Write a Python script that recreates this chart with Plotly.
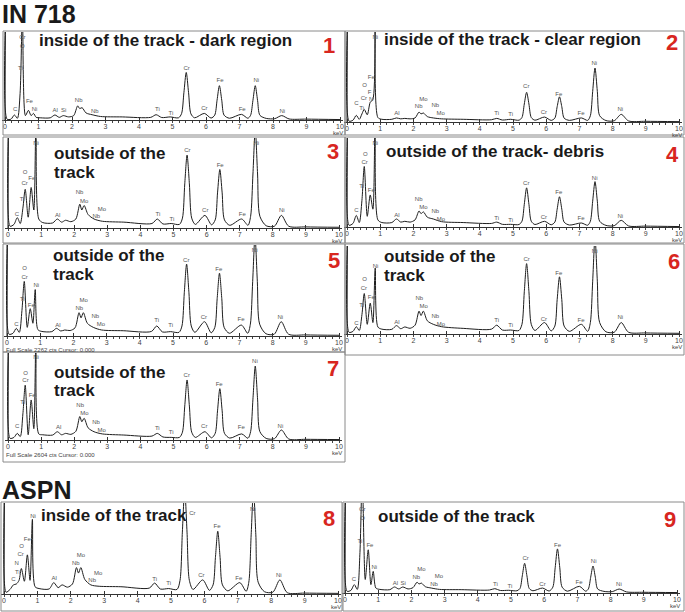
import plotly.graph_objects as go

W, H = 685, 612

# ---------------- data ----------------
# shared energy sampling (keV) at which each spectrum was read
energy_kev = [0.00, 0.02, 0.06, 0.18, 0.28, 0.37, 0.45, 0.52, 0.61, 0.70, 0.78, 0.85, 0.93,
              1.05, 1.35, 1.49, 1.62, 1.74, 1.90, 2.05, 2.17, 2.23, 2.30, 2.42, 2.60, 2.85,
              3.50, 4.35, 4.51, 4.68, 4.93, 5.18, 5.27, 5.34, 5.41, 5.48, 5.55, 5.66,
              5.95, 6.15, 6.26, 6.33, 6.40, 6.47, 6.54, 6.70, 7.06, 7.25, 7.33, 7.40,
              7.47, 7.54, 7.61, 7.80, 8.05, 8.26, 8.48, 9.00, 10.0]

# relative counts (1 = top of panel)
counts_1 = [0.0, 1.3, 0.01, 0.01, 0.057, 0.02, 0.30, 1.2, 0.05, 0.11, 0.05, 0.075, 0.03,
            0.025, 0.025, 0.057, 0.03, 0.05, 0.035, 0.05, 0.16, 0.13, 0.14, 0.08, 0.06, 0.04,
            0.035, 0.03, 0.06, 0.028, 0.035, 0.025, 0.072, 0.31, 0.54, 0.31, 0.07, 0.025,
            0.075, 0.022, 0.055, 0.225, 0.39, 0.225, 0.055, 0.02, 0.064, 0.02, 0.053, 0.22,
            0.39, 0.22, 0.053, 0.018, 0.015, 0.05, 0.012, 0.01, 0.005]
counts_2 = [0.0, 1.3, 0.01, 0.02, 0.074, 0.03, 0.09, 0.14, 0.08, 0.22, 0.25, 1.3, 0.05,
            0.03, 0.03, 0.045, 0.035, 0.04, 0.035, 0.045, 0.11, 0.09, 0.10, 0.06, 0.045, 0.035,
            0.03, 0.025, 0.04, 0.022, 0.03, 0.02, 0.05, 0.2, 0.33, 0.2, 0.05, 0.02,
            0.055, 0.018, 0.043, 0.17, 0.28, 0.17, 0.043, 0.018, 0.045, 0.018, 0.07, 0.34,
            0.60, 0.34, 0.07, 0.016, 0.014, 0.085, 0.012, 0.008, 0.004]
counts_3 = [0.0, 1.3, 0.02, 0.04, 0.115, 0.05, 0.22, 0.43, 0.12, 0.45, 0.2, 1.3, 0.1,
            0.06, 0.056, 0.10, 0.065, 0.086, 0.07, 0.1, 0.265, 0.2, 0.25, 0.15, 0.1, 0.075,
            0.065, 0.05, 0.10, 0.045, 0.05, 0.04, 0.11, 0.49, 0.81, 0.49, 0.11, 0.04,
            0.14, 0.035, 0.09, 0.39, 0.65, 0.39, 0.09, 0.03, 0.10, 0.03, 0.13, 0.6,
            1.1, 0.6, 0.13, 0.025, 0.02, 0.14, 0.02, 0.012, 0.008]
counts_4 = [0.0, 1.3, 0.02, 0.04, 0.13, 0.05, 0.3, 0.68, 0.12, 0.36, 0.2, 1.3, 0.08,
            0.05, 0.05, 0.09, 0.055, 0.064, 0.055, 0.08, 0.18, 0.15, 0.17, 0.11, 0.09, 0.06,
            0.05, 0.04, 0.055, 0.03, 0.03, 0.028, 0.065, 0.255, 0.44, 0.255, 0.065, 0.028,
            0.064, 0.025, 0.055, 0.2, 0.34, 0.2, 0.055, 0.022, 0.045, 0.02, 0.065, 0.29,
            0.51, 0.29, 0.065, 0.018, 0.015, 0.075, 0.012, 0.01, 0.005]
counts_5 = [0.0, 1.3, 0.02, 0.03, 0.084, 0.04, 0.28, 0.60, 0.095, 0.30, 0.14, 0.51, 0.07,
            0.05, 0.048, 0.084, 0.055, 0.066, 0.06, 0.09, 0.256, 0.2, 0.256, 0.14, 0.095, 0.066,
            0.058, 0.05, 0.11, 0.045, 0.048, 0.04, 0.11, 0.475, 0.79, 0.475, 0.11, 0.04,
            0.157, 0.035, 0.095, 0.41, 0.69, 0.41, 0.095, 0.03, 0.12, 0.03, 0.13, 0.6,
            1.1, 0.6, 0.13, 0.025, 0.02, 0.157, 0.02, 0.012, 0.008]
counts_6 = [0.0, 1.3, 0.02, 0.03, 0.083, 0.04, 0.22, 0.46, 0.11, 0.35, 0.13, 0.75, 0.08,
            0.055, 0.053, 0.095, 0.06, 0.08, 0.065, 0.1, 0.26, 0.21, 0.26, 0.15, 0.11, 0.083,
            0.064, 0.055, 0.10, 0.045, 0.045, 0.04, 0.11, 0.48, 0.80, 0.48, 0.11, 0.04,
            0.13, 0.035, 0.09, 0.39, 0.65, 0.39, 0.09, 0.03, 0.11, 0.03, 0.13, 0.6,
            1.1, 0.6, 0.13, 0.025, 0.02, 0.13, 0.02, 0.012, 0.008]
counts_7 = [0.0, 1.3, 0.02, 0.03, 0.076, 0.04, 0.3, 0.63, 0.06, 0.46, 0.13, 1.3, 0.07,
            0.06, 0.057, 0.095, 0.06, 0.076, 0.065, 0.1, 0.27, 0.21, 0.25, 0.14, 0.095, 0.07,
            0.057, 0.045, 0.076, 0.035, 0.03, 0.03, 0.09, 0.39, 0.69, 0.39, 0.09, 0.03,
            0.095, 0.025, 0.077, 0.335, 0.59, 0.335, 0.077, 0.022, 0.07, 0.02, 0.096, 0.47,
            0.85, 0.47, 0.096, 0.018, 0.015, 0.115, 0.012, 0.008, 0.005]
counts_8 = [0.0, 1.3, 0.02, 0.05, 0.10, 0.11, 0.15, 0.28, 0.14, 0.43, 0.15, 0.82, 0.08,
            0.06, 0.055, 0.125, 0.07, 0.1, 0.075, 0.11, 0.29, 0.23, 0.29, 0.16, 0.1, 0.085,
            0.08, 0.065, 0.12, 0.055, 0.06, 0.05, 0.15, 0.68, 1.15, 0.68, 0.15, 0.05,
            0.155, 0.04, 0.1, 0.4, 0.69, 0.4, 0.1, 0.035, 0.125, 0.03, 0.13, 0.65,
            1.15, 0.65, 0.13, 0.025, 0.02, 0.155, 0.015, 0.01, 0.007]
counts_9 = [0.0, 1.3, 0.02, 0.03, 0.093, 0.04, 0.45, 1.3, 0.15, 0.48, 0.093, 0.24, 0.055,
            0.04, 0.037, 0.067, 0.045, 0.067, 0.045, 0.06, 0.12, 0.1, 0.11, 0.07, 0.055, 0.04,
            0.037, 0.033, 0.048, 0.028, 0.03, 0.025, 0.05, 0.19, 0.33, 0.19, 0.05, 0.025,
            0.055, 0.022, 0.065, 0.28, 0.49, 0.28, 0.065, 0.02, 0.074, 0.02, 0.045, 0.175,
            0.30, 0.175, 0.045, 0.018, 0.015, 0.044, 0.012, 0.008, 0.005]

panel_titles = [["inside of the track - dark region"], ["inside of the track - clear region"],
                ["outside of the", "track"], ["outside of the track- debris"],
                ["outside of the", "track"], ["outside of the", "track"],
                ["outside of the", "track"], ["inside of the track"], ["outside of the track"]]
panel_numbers = ["1", "2", "3", "4", "5", "6", "7", "8", "9"]
tick_labels = [str(i) for i in range(11)]

# element peak labels: (symbol, keV, level)
labels_1 = [("Cr",0.52,0.94),("O",0.52,0.84),("Ti",0.46,0.58),("C",0.30,0.125),("Fe",0.73,0.21),
            ("Ni",0.88,0.12),("Al",1.50,0.11),("Si",1.75,0.11),("Nb",2.20,0.22),("Nb",2.68,0.095),
            ("Ti",4.55,0.12),("Ti",4.95,0.075),("Cr",5.42,0.58),("Cr",5.95,0.13),("Fe",6.42,0.45),
            ("Fe",7.08,0.12),("Ni",7.50,0.45),("Ni",8.28,0.10)]
labels_2 = [("Ni",0.85,0.94),("Fe",0.73,0.49),("O",0.53,0.41),("F",0.68,0.33),("Cr",0.51,0.26),
            ("N",0.73,0.25),("C",0.28,0.21),("Ti",0.44,0.15),("Al",1.50,0.10),("Nb",2.16,0.17),
            ("Mo",2.30,0.25),("Nb",2.66,0.18),("Mo",2.82,0.09),("Ti",4.51,0.10),("Ti",4.93,0.08),
            ("Cr",5.40,0.39),("Cr",5.93,0.11),("Fe",6.38,0.31),("Fe",7.05,0.10),("Ni",7.45,0.65),
            ("Ni",8.23,0.14)]
labels_3 = [("Ni",0.85,0.94),("O",0.52,0.62),("Fe",0.72,0.55),("Cr",0.50,0.49),("Ti",0.43,0.32),
            ("C",0.27,0.15),("Al",1.50,0.14),("Nb",2.16,0.39),("Mo",2.30,0.30),("Mo",2.84,0.21),
            ("Nb",2.67,0.13),("Ti",4.53,0.15),("Ti",4.95,0.09),("Cr",5.42,0.86),("Cr",5.96,0.19),
            ("Fe",6.41,0.70),("Fe",7.08,0.15),("Ni",7.50,0.94),("Ni",8.27,0.19)]
labels_4 = [("Ni",0.85,0.94),("O",0.55,0.82),("Cr",0.53,0.73),("Ti",0.44,0.46),("Fe",0.73,0.41),
            ("C",0.28,0.19),("Al",1.50,0.13),("Nb",2.16,0.31),("Mo",2.30,0.22),("Nb",2.66,0.17),
            ("Mo",2.83,0.08),("Ti",4.51,0.09),("Ti",4.93,0.07),("Cr",5.40,0.49),("Cr",5.93,0.11),
            ("Fe",6.38,0.39),("Fe",7.05,0.09),("Ni",7.46,0.54),("Ni",8.23,0.12)]
labels_5 = [("O",0.53,0.74),("Cr",0.53,0.64),("Ni",0.88,0.55),("Ti",0.46,0.40),("Fe",0.73,0.33),
            ("C",0.28,0.13),("Al",1.53,0.12),("Mo",2.31,0.39),("Nb",2.18,0.30),("Nb",2.66,0.21),
            ("Mo",2.83,0.13),("Ti",4.51,0.165),("Ti",4.93,0.12),("Cr",5.40,0.83),("Cr",5.93,0.20),
            ("Fe",6.38,0.73),("Fe",7.05,0.18),("Ni",7.46,0.94),("Ni",8.23,0.20)]
labels_6 = [("Ni",0.86,0.77),("O",0.53,0.62),("Cr",0.51,0.52),("Fe",0.73,0.41),("Ti",0.44,0.32),
            ("C",0.28,0.12),("Al",1.50,0.13),("Nb",2.18,0.40),("Mo",2.31,0.31),("Nb",2.66,0.20),
            ("Mo",2.83,0.11),("Ti",4.51,0.15),("Ti",4.93,0.10),("Cr",5.41,0.85),("Cr",5.93,0.17),
            ("Fe",6.38,0.69),("Fe",7.05,0.15),("Ni",7.46,0.94),("Ni",8.23,0.19)]
labels_7 = [("Ni",0.85,0.95),("O",0.53,0.77),("Cr",0.53,0.68),("Fe",0.73,0.51),("Ti",0.44,0.43),
            ("C",0.28,0.16),("Al",1.53,0.145),("Nb",2.18,0.40),("Mo",2.31,0.31),("Nb",2.66,0.20),
            ("Mo",2.83,0.115),("Ti",4.51,0.13),("Ti",4.93,0.084),("Cr",5.40,0.74),("Cr",5.93,0.15),
            ("Fe",6.38,0.64),("Fe",7.05,0.145),("Ni",7.46,0.90),("Ni",8.23,0.16)]
labels_8 = [("Ni",0.87,0.85),("Fe",0.70,0.60),("O",0.53,0.52),("Cr",0.50,0.43),("N",0.38,0.33),
            ("Ti",0.40,0.235),("C",0.28,0.16),("Al",1.50,0.17),("Mo",2.30,0.42),("Nb",2.15,0.34),
            ("Mo",2.82,0.22),("Nb",2.64,0.15),("Ti",4.51,0.16),("Ti",4.93,0.11),("Cr",5.64,0.88),
            ("Cr",5.91,0.20),("Fe",6.38,0.74),("Fe",7.03,0.17),("Ni",7.45,0.93),("Ni",8.23,0.20)]
labels_9 = [("Cr",0.52,0.93),("O",0.53,0.83),("Ti",0.45,0.57),("Fe",0.75,0.53),("Ni",0.88,0.285),
            ("C",0.27,0.15),("Al",1.52,0.11),("Si",1.75,0.11),("Mo",2.30,0.26),("Nb",2.15,0.17),
            ("Mo",2.83,0.18),("Nb",2.68,0.09),("Ti",4.53,0.09),("Ti",4.97,0.074),("Cr",5.44,0.38),
            ("Cr",5.95,0.10),("Fe",6.40,0.53),("Fe",7.05,0.12),("Ni",7.49,0.35),("Ni",8.25,0.09)]

all_counts = [counts_1, counts_2, counts_3, counts_4, counts_5, counts_6, counts_7, counts_8, counts_9]
all_labels = [labels_1, labels_2, labels_3, labels_4, labels_5, labels_6, labels_7, labels_8, labels_9]

# ---------------- layout geometry (pixels) ----------------
# (x at 0 keV, x at 10 keV, y baseline, y top, box(x1,y1,x2,y2), title x, title y centres, number right x, number y)
geometry = [
    (5, 340, 120, 32, (3, 31, 345, 135), 38, [40.5], 336, 46),
    (347, 679, 122, 32, (345, 31, 684, 135), 383, [39], 679, 42.5),
    (8, 339, 228, 138, (3, 137, 345, 243), 53, [153, 172.7], 340, 151.5),
    (347, 679, 227, 138, (345, 137, 684, 243), 385, [151.7], 680, 154.5),
    (7, 339, 336, 245, (3, 244, 345, 352), 52, [255.7, 274.3], 341, 260.5),
    (347, 679, 334, 246, (345, 244, 684, 355), 383, [256.7, 275.7], 681, 261),
    (8, 339, 440, 353, (3, 352, 345, 462), 53, [372.3, 391], 340, 368),
    (4, 338, 594, 503, (1, 502, 342, 611), 40, [515.7], 336, 518),
    (345, 677, 593, 503, (343, 502, 684, 611), 377, [516.7], 677, 519.5),
]

FONT = "Liberation Sans, Arial, sans-serif"
fig = go.Figure()
layout = dict(width=W, height=H, margin=dict(l=0, r=0, t=0, b=0), paper_bgcolor="white",
              plot_bgcolor="rgba(0,0,0,0)", showlegend=False, font=dict(family=FONT))
shapes, annotations = [], []

def px(x):
    return x / W

def py(y):
    return 1 - y / H

for i, (counts, labels, geo) in enumerate(zip(all_counts, all_labels, geometry)):
    n = i + 1
    x0, x10, yb, yt, box, tx, tys, nx, ny = geo
    k = (x10 - x0) / 10.0
    pad = 3
    xname = "x" if n == 1 else f"x{n}"
    yname = "y" if n == 1 else f"y{n}"
    layout["xaxis" if n == 1 else f"xaxis{n}"] = dict(
        domain=[px(x0 - pad), px(x10 + pad)], range=[-pad / k, 10 + pad / k], anchor=yname,
        showgrid=False, zeroline=False, showline=True, linecolor="#333", linewidth=1,
        ticks="inside", ticklen=3, tickwidth=1, tickcolor="#333",
        tickvals=list(range(11)), ticktext=tick_labels,
        tickfont=dict(size=7, color="#444", family=FONT),
        minor=dict(dtick=0.2, tick0=0, ticks="outside", ticklen=2, tickcolor="#444"),
        fixedrange=True)
    layout["yaxis" if n == 1 else f"yaxis{n}"] = dict(
        domain=[py(yb), py(yt)], range=[0, 1], anchor=xname, visible=False, fixedrange=True)

    fig.add_trace(go.Scatter(x=energy_kev, y=counts, mode="lines", xaxis=xname, yaxis=yname,
                             line=dict(color="#1e1e1e", width=1, shape="spline", smoothing=0.8),
                             hoverinfo="skip"))
    fig.add_trace(go.Scatter(x=[l[1] for l in labels], y=[l[2] for l in labels],
                             text=[l[0] for l in labels], mode="text", xaxis=xname, yaxis=yname,
                             textfont=dict(size=6, color="#555555", family=FONT),
                             cliponaxis=False, hoverinfo="skip"))

    bx1, by1, bx2, by2 = box
    shapes.append(dict(type="rect", xref="paper", yref="paper", x0=px(bx1), x1=px(bx2),
                       y0=py(by2), y1=py(by1), line=dict(color="#8a8a8a", width=1)))
    for line_text, ty in zip(panel_titles[i], tys):
        annotations.append(dict(text=f"<b>{line_text}</b>", x=px(tx), y=py(ty), xref="paper",
                                yref="paper", xanchor="left", yanchor="middle", showarrow=False,
                                font=dict(size=17, color="#1a1a1a", family=FONT), borderpad=0))
    annotations.append(dict(text=f"<b>{panel_numbers[i]}</b>", x=px(nx), y=py(ny), xref="paper",
                            yref="paper", xanchor="right", yanchor="middle", showarrow=False,
                            font=dict(size=22, color="#d8261f", family=FONT), borderpad=0))
    annotations.append(dict(text="keV", x=px(x10 + 4), y=py(yb + 13), xref="paper", yref="paper",
                            xanchor="right", yanchor="middle", showarrow=False,
                            font=dict(size=6, color="#444", family=FONT), borderpad=0))

annotations.append(dict(text="Full Scale 2262 cts Cursor: 0.000", x=px(5), y=py(349.5), xref="paper",
                        yref="paper", xanchor="left", yanchor="middle", showarrow=False,
                        font=dict(size=6, color="#444", family=FONT), borderpad=0))
annotations.append(dict(text="Full Scale 2604 cts Cursor: 0.000", x=px(5), y=py(455), xref="paper",
                        yref="paper", xanchor="left", yanchor="middle", showarrow=False,
                        font=dict(size=6, color="#444", family=FONT), borderpad=0))
annotations.append(dict(text="<b>IN 718</b>", x=px(1), y=py(14), xref="paper", yref="paper",
                        xanchor="left", yanchor="middle", showarrow=False,
                        font=dict(size=25, color="#1a1a1a", family=FONT), borderpad=0))
annotations.append(dict(text="<b>ASPN</b>", x=px(1), y=py(490), xref="paper", yref="paper",
                        xanchor="left", yanchor="middle", showarrow=False,
                        font=dict(size=25, color="#1a1a1a", family=FONT), borderpad=0))

layout["shapes"] = shapes
layout["annotations"] = annotations
fig.update_layout(**layout)
fig.write_html("out.html", config={"displayModeBar": False},
               post_script="document.body.style.margin='0';document.body.style.overflow='hidden';")
